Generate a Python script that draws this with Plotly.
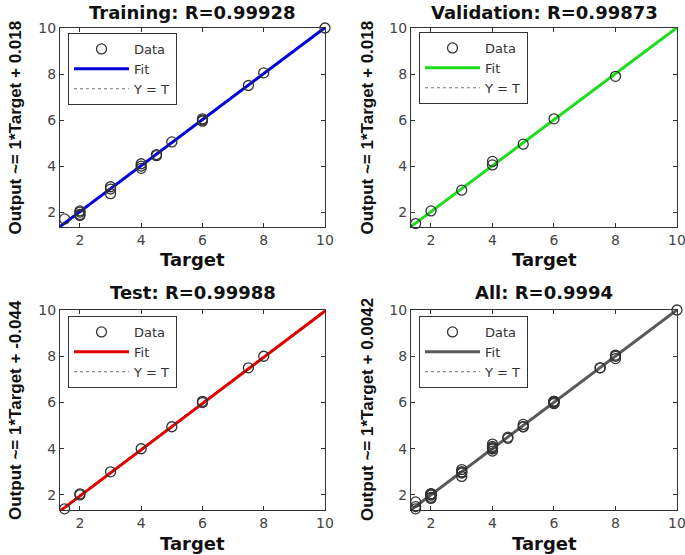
import plotly.graph_objects as go

W, H = 685, 555

# ---------------- data ----------------
panel_titles = ["Training: R=0.99928", "Validation: R=0.99873", "Test: R=0.99988", "All: R=0.9994"]
ylabels = ["Output ~= 1*Target + 0.018", "Output ~= 1*Target + 0.018",
           "Output ~= 1*Target + -0.044", "Output ~= 1*Target + 0.0042"]
fit_slope = [1.0, 1.0, 1.0, 1.0]
fit_intercept = [0.018, 0.018, -0.044, 0.0042]
fit_colors = ["#0000dc", "#1fdc1f", "#e00000", "#595959"]

train_target = [1.5, 2, 2, 2, 2, 3, 3, 3, 4, 4, 4, 4.5, 4.5, 5, 6, 6, 6, 7.5, 8, 10]
train_output = [1.7, 1.85, 1.9, 2.0, 2.05, 2.8, 3.0, 3.1, 3.9, 4.0, 4.1, 4.45, 4.5, 5.05, 5.95, 6.0, 6.05, 7.5, 8.05, 10.0]

val_target = [1.5, 1.5, 2, 3, 4, 4, 5, 6, 8]
val_output = [1.3, 1.5, 2.05, 2.95, 4.05, 4.2, 4.95, 6.05, 7.9]

test_target = [1.5, 2, 2, 3, 4, 5, 6, 6, 7.5, 8, 10]
test_output = [1.4, 2.0, 2.05, 3.0, 4.0, 4.95, 6.0, 6.05, 7.5, 8.0, 10.05]

all_target = train_target + val_target + test_target
all_output = train_output + val_output + test_output

targets = [train_target, val_target, test_target, all_target]
outputs = [train_output, val_output, test_output, all_output]

tick_vals = [2, 4, 6, 8, 10]
axis_min, axis_max = 1.35, 10.0

# ---------------- layout geometry (pixels) ----------------
plot_boxes = [  # left, right, top, bottom
    (60, 325, 28, 227),
    (411, 677, 28, 227),
    (60, 325, 310, 510),
    (411, 677, 310, 510),
]
title_y = [12, 12, 292, 292]
target_y = [259, 259, 543, 543]
ylab_x = [15, 367, 15, 367]
legend_pos = [(68, 33), (419, 32), (68, 316), (419, 316)]

fig = go.Figure()

title_font = dict(family="DejaVu Sans", size=18, color="#111111")
tick_font = dict(family="DejaVu Sans", size=14, color="#444444")

for i in range(4):
    xa = "x" if i == 0 else f"x{i+1}"
    ya = "y" if i == 0 else f"y{i+1}"
    lg = "legend" if i == 0 else f"legend{i+1}"
    # Y = T line
    fig.add_trace(go.Scatter(x=[axis_min, axis_max], y=[axis_min, axis_max], mode="lines",
                             line=dict(color="#777777", width=1.2, dash="dot"),
                             name="Y = T", xaxis=xa, yaxis=ya, legend=lg, legendrank=3))
    # Fit line
    fx = [axis_min, axis_max]
    fy = [fit_slope[i] * v + fit_intercept[i] for v in fx]
    fig.add_trace(go.Scatter(x=fx, y=fy, mode="lines",
                             line=dict(color=fit_colors[i], width=3),
                             name="Fit", xaxis=xa, yaxis=ya, legend=lg, legendrank=2))
    # Data
    fig.add_trace(go.Scatter(x=targets[i], y=outputs[i], mode="markers", cliponaxis=False,
                             marker=dict(symbol="circle-open", size=10, color="#333333",
                                         line=dict(width=1.3)),
                             name="Data", xaxis=xa, yaxis=ya, legend=lg, legendrank=1))

layout = dict(width=W, height=H, margin=dict(l=0, r=0, t=0, b=0, autoexpand=False),
              paper_bgcolor="white", plot_bgcolor="white", showlegend=True,
              annotations=[])

for i, (l, r, t, b) in enumerate(plot_boxes):
    xk = "xaxis" if i == 0 else f"xaxis{i+1}"
    yk = "yaxis" if i == 0 else f"yaxis{i+1}"
    ya_ref = "y" if i == 0 else f"y{i+1}"
    xa_ref = "x" if i == 0 else f"x{i+1}"
    common = dict(range=[axis_min, axis_max], tickvals=tick_vals, ticks="inside", ticklen=4,
                  tickcolor="#333333", showline=True, linecolor="#333333", linewidth=1,
                  mirror="ticks", showgrid=False, zeroline=False, tickfont=tick_font,
                  automargin=False, ticklabeloverflow="allow")
    layout[xk] = dict(domain=[l / W, r / W], anchor=ya_ref, **common)
    layout[yk] = dict(domain=[1 - b / H, 1 - t / H], anchor=xa_ref, **common)
    cx = (l + r) / 2
    cy = (t + b) / 2
    layout["annotations"].append(dict(text=f"<b>{panel_titles[i]}</b>", x=cx / W, y=1 - title_y[i] / H,
                                      xref="paper", yref="paper", xanchor="center", yanchor="middle",
                                      showarrow=False, font=title_font))
    layout["annotations"].append(dict(text="<b>Target</b>", x=cx / W, y=1 - target_y[i] / H,
                                      xref="paper", yref="paper", xanchor="center", yanchor="middle",
                                      showarrow=False, font=title_font))
    layout["annotations"].append(dict(text=f"<b>{ylabels[i]}</b>", x=ylab_x[i] / W, y=1 - cy / H,
                                      xref="paper", yref="paper", xanchor="center", yanchor="middle",
                                      textangle=-90, showarrow=False,
                                      font=dict(family="Liberation Sans, Arial", size=17, color="#111111")))
    lk = "legend" if i == 0 else f"legend{i+1}"
    lx, ly = legend_pos[i]
    layout[lk] = dict(x=lx / W, y=1 - ly / H, xanchor="left", yanchor="top",
                      xref="paper", yref="paper",
                      bgcolor="white", bordercolor="#333333", borderwidth=1,
                      font=dict(family="DejaVu Sans", size=13, color="#333333"),
                      itemwidth=55, tracegroupgap=0)

fig.update_layout(**layout)
fig.write_html("out.html", config={"displayModeBar": False},
               post_script="document.body.style.margin='0px';document.body.style.overflow='hidden';")
